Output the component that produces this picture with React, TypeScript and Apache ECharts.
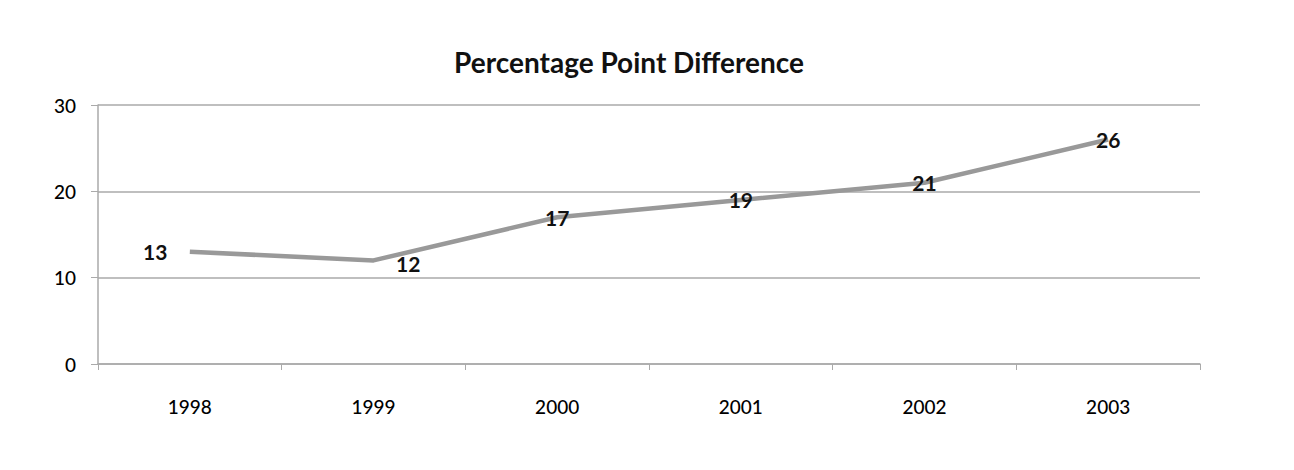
import React, { useEffect, useRef } from "react";
import * as echarts from "echarts";

const categories = ["1998", "1999", "2000", "2001", "2002", "2003"];
const values = [13, 12, 17, 19, 21, 26];
const titleText = "Percentage Point Difference";

export default function App() {
  const ref = useRef<HTMLDivElement>(null);
  useEffect(() => {
    if (!ref.current) return;
    const chart = echarts.init(ref.current, null, { renderer: "svg" });
    const font = "Lato, 'Open Sans', sans-serif";
    const labelPos = (i: number): any => {
      if (i === 0) return { position: "left", distance: 22 };
      if (i === 1) return { position: "right", distance: 22, offset: [0, 3] };
      return { position: "inside" };
    };
    chart.setOption({
      animation: false,
      backgroundColor: "#ffffff",
      title: {
        text: titleText,
        left: 624,
        textAlign: "center",
        top: 43,
        textStyle: { fontFamily: font, fontSize: 28, fontWeight: "bold", color: "#111" },
      },
      grid: { left: 98, right: 94, top: 105, bottom: 106, containLabel: false },
      xAxis: {
        type: "category",
        data: categories,
        boundaryGap: true,
        axisLine: { show: true, lineStyle: { color: "#aaaaaa", width: 1.5 } },
        axisTick: { show: true, length: 6, lineStyle: { color: "#aaaaaa" } },
        axisLabel: { margin: 33, fontFamily: font, fontSize: 19, fontWeight: 500, color: "#000" },
        splitLine: { show: false },
      },
      yAxis: {
        type: "value",
        min: 0,
        max: 30,
        interval: 10,
        axisLine: { show: true, lineStyle: { color: "#aaaaaa", width: 1.5 } },
        axisTick: { show: true, length: 7, lineStyle: { color: "#aaaaaa" } },
        axisLabel: { margin: 22, fontFamily: font, fontSize: 19, fontWeight: 500, color: "#000" },
        splitLine: { show: true, lineStyle: { color: "#aaaaaa", width: 1.5 } },
      },
      series: [
        {
          type: "line",
          data: values.map((v, i) => ({
            value: v,
            label: { show: true, ...labelPos(i) },
          })),
          symbol: "circle",
          symbolSize: 1,
          showSymbol: true,
          itemStyle: { color: "rgba(0,0,0,0)" },
          lineStyle: { color: "#999999", width: 4.5 },
          label: {
            show: true,
            fontFamily: font,
            fontSize: 21,
            fontWeight: "bold",
            color: "#111",
          },
        },
      ],
    });
    return () => chart.dispose();
  }, []);
  return (
    <div
      ref={ref}
      style={{ position: "fixed", left: 0, top: 0, width: 1294, height: 470 }}
    />
  );
}
